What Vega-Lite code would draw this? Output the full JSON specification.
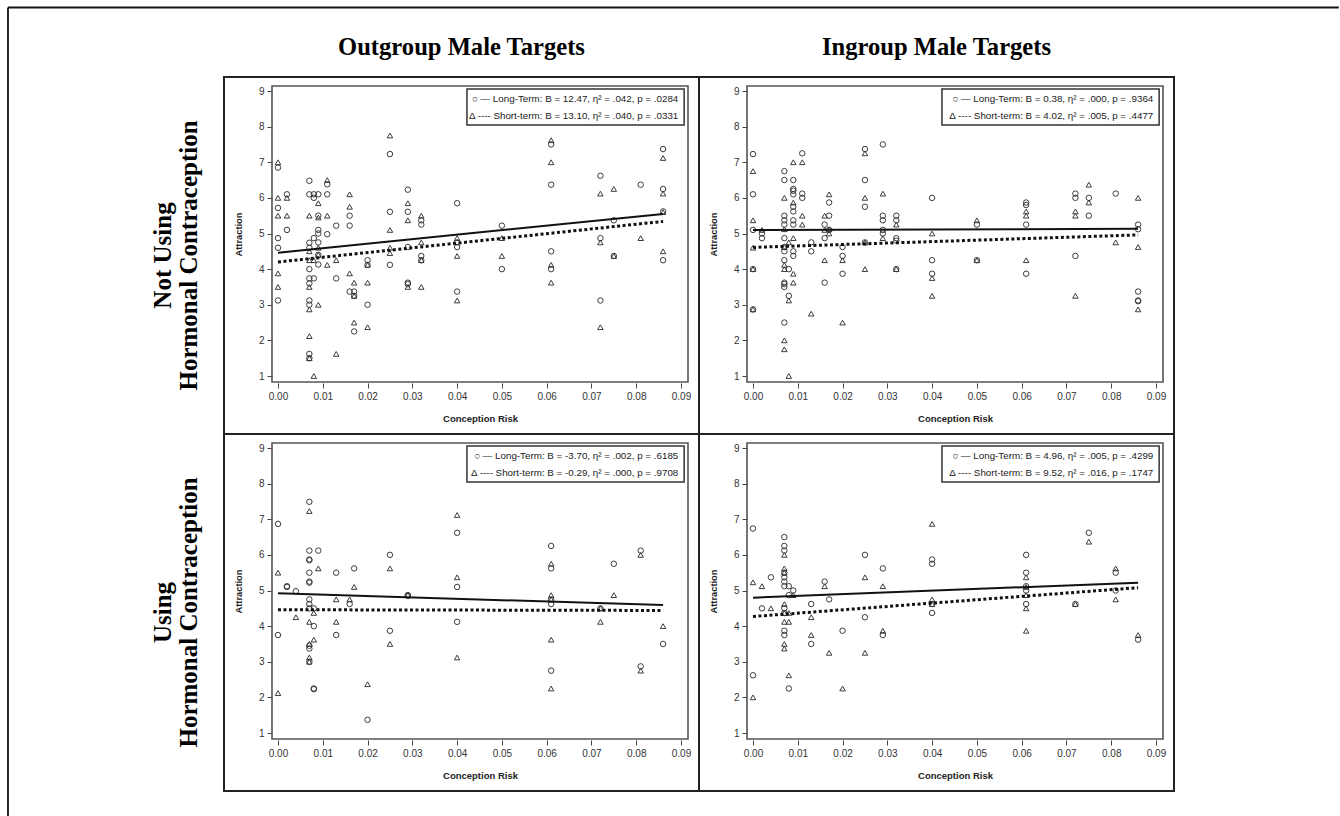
{
  "$schema": "https://vega.github.io/schema/vega-lite/v6.json",
  "padding": {"left": 6, "top": 5, "right": 0, "bottom": 0},
  "background": "white",
  "bounds": "flush",
  "data": {"values": [
    {"k":"p","r":"N","c":"O","t":"L","x":0,"y":6.85},{"k":"p","r":"N","c":"O","t":"L","x":0,"y":5.72},{"k":"p","r":"N","c":"O","t":"L","x":0,"y":4.87},{"k":"p","r":"N","c":"O","t":"L","x":0,"y":4.6},{"k":"p","r":"N","c":"O","t":"L","x":0,"y":3.12},
    {"k":"p","r":"N","c":"O","t":"L","x":0.002,"y":6.1},{"k":"p","r":"N","c":"O","t":"L","x":0.002,"y":5.1},
    {"k":"p","r":"N","c":"O","t":"L","x":0.007,"y":6.48},{"k":"p","r":"N","c":"O","t":"L","x":0.007,"y":6.1},{"k":"p","r":"N","c":"O","t":"L","x":0.007,"y":4.74},{"k":"p","r":"N","c":"O","t":"L","x":0.007,"y":4.6},{"k":"p","r":"N","c":"O","t":"L","x":0.007,"y":4.0},{"k":"p","r":"N","c":"O","t":"L","x":0.007,"y":3.74},{"k":"p","r":"N","c":"O","t":"L","x":0.007,"y":3.6},{"k":"p","r":"N","c":"O","t":"L","x":0.007,"y":3.12},{"k":"p","r":"N","c":"O","t":"L","x":0.007,"y":3.0},{"k":"p","r":"N","c":"O","t":"L","x":0.007,"y":1.62},{"k":"p","r":"N","c":"O","t":"L","x":0.007,"y":1.5},
    {"k":"p","r":"N","c":"O","t":"L","x":0.008,"y":6.1},{"k":"p","r":"N","c":"O","t":"L","x":0.008,"y":6.0},{"k":"p","r":"N","c":"O","t":"L","x":0.008,"y":4.87},{"k":"p","r":"N","c":"O","t":"L","x":0.008,"y":3.74},
    {"k":"p","r":"N","c":"O","t":"L","x":0.009,"y":6.1},{"k":"p","r":"N","c":"O","t":"L","x":0.009,"y":5.5},{"k":"p","r":"N","c":"O","t":"L","x":0.009,"y":5.1},{"k":"p","r":"N","c":"O","t":"L","x":0.009,"y":5.0},{"k":"p","r":"N","c":"O","t":"L","x":0.009,"y":4.75},{"k":"p","r":"N","c":"O","t":"L","x":0.009,"y":4.4},{"k":"p","r":"N","c":"O","t":"L","x":0.009,"y":4.13},
    {"k":"p","r":"N","c":"O","t":"L","x":0.011,"y":6.38},{"k":"p","r":"N","c":"O","t":"L","x":0.011,"y":6.1},{"k":"p","r":"N","c":"O","t":"L","x":0.011,"y":4.98},
    {"k":"p","r":"N","c":"O","t":"L","x":0.013,"y":5.22},{"k":"p","r":"N","c":"O","t":"L","x":0.013,"y":3.74},
    {"k":"p","r":"N","c":"O","t":"L","x":0.016,"y":5.5},{"k":"p","r":"N","c":"O","t":"L","x":0.016,"y":5.22},{"k":"p","r":"N","c":"O","t":"L","x":0.016,"y":3.37},
    {"k":"p","r":"N","c":"O","t":"L","x":0.017,"y":3.37},{"k":"p","r":"N","c":"O","t":"L","x":0.017,"y":3.25},{"k":"p","r":"N","c":"O","t":"L","x":0.017,"y":2.25},
    {"k":"p","r":"N","c":"O","t":"L","x":0.02,"y":4.25},{"k":"p","r":"N","c":"O","t":"L","x":0.02,"y":4.12},{"k":"p","r":"N","c":"O","t":"L","x":0.02,"y":3.0},
    {"k":"p","r":"N","c":"O","t":"L","x":0.025,"y":7.23},{"k":"p","r":"N","c":"O","t":"L","x":0.025,"y":5.61},{"k":"p","r":"N","c":"O","t":"L","x":0.025,"y":4.12},
    {"k":"p","r":"N","c":"O","t":"L","x":0.029,"y":6.23},{"k":"p","r":"N","c":"O","t":"L","x":0.029,"y":5.61},{"k":"p","r":"N","c":"O","t":"L","x":0.029,"y":4.62},{"k":"p","r":"N","c":"O","t":"L","x":0.029,"y":3.62},{"k":"p","r":"N","c":"O","t":"L","x":0.029,"y":3.58},
    {"k":"p","r":"N","c":"O","t":"L","x":0.032,"y":5.37},{"k":"p","r":"N","c":"O","t":"L","x":0.032,"y":5.25},{"k":"p","r":"N","c":"O","t":"L","x":0.032,"y":4.37},{"k":"p","r":"N","c":"O","t":"L","x":0.032,"y":4.25},
    {"k":"p","r":"N","c":"O","t":"L","x":0.04,"y":5.85},{"k":"p","r":"N","c":"O","t":"L","x":0.04,"y":4.75},{"k":"p","r":"N","c":"O","t":"L","x":0.04,"y":4.62},{"k":"p","r":"N","c":"O","t":"L","x":0.04,"y":3.37},
    {"k":"p","r":"N","c":"O","t":"L","x":0.05,"y":5.22},{"k":"p","r":"N","c":"O","t":"L","x":0.05,"y":4.0},
    {"k":"p","r":"N","c":"O","t":"L","x":0.061,"y":7.5},{"k":"p","r":"N","c":"O","t":"L","x":0.061,"y":6.37},{"k":"p","r":"N","c":"O","t":"L","x":0.061,"y":4.5},{"k":"p","r":"N","c":"O","t":"L","x":0.061,"y":4.0},
    {"k":"p","r":"N","c":"O","t":"L","x":0.072,"y":6.62},{"k":"p","r":"N","c":"O","t":"L","x":0.072,"y":4.87},{"k":"p","r":"N","c":"O","t":"L","x":0.072,"y":3.12},
    {"k":"p","r":"N","c":"O","t":"L","x":0.075,"y":5.37},{"k":"p","r":"N","c":"O","t":"L","x":0.075,"y":4.37},
    {"k":"p","r":"N","c":"O","t":"L","x":0.081,"y":6.37},
    {"k":"p","r":"N","c":"O","t":"L","x":0.086,"y":7.37},{"k":"p","r":"N","c":"O","t":"L","x":0.086,"y":6.25},{"k":"p","r":"N","c":"O","t":"L","x":0.086,"y":5.62},{"k":"p","r":"N","c":"O","t":"L","x":0.086,"y":4.25},

    {"k":"p","r":"N","c":"O","t":"S","x":0,"y":7.0},{"k":"p","r":"N","c":"O","t":"S","x":0,"y":6.0},{"k":"p","r":"N","c":"O","t":"S","x":0,"y":5.5},{"k":"p","r":"N","c":"O","t":"S","x":0,"y":3.88},{"k":"p","r":"N","c":"O","t":"S","x":0,"y":3.5},
    {"k":"p","r":"N","c":"O","t":"S","x":0.002,"y":6.0},{"k":"p","r":"N","c":"O","t":"S","x":0.002,"y":5.5},
    {"k":"p","r":"N","c":"O","t":"S","x":0.007,"y":5.5},{"k":"p","r":"N","c":"O","t":"S","x":0.007,"y":4.5},{"k":"p","r":"N","c":"O","t":"S","x":0.007,"y":4.25},{"k":"p","r":"N","c":"O","t":"S","x":0.007,"y":3.5},{"k":"p","r":"N","c":"O","t":"S","x":0.007,"y":2.87},{"k":"p","r":"N","c":"O","t":"S","x":0.007,"y":2.12},{"k":"p","r":"N","c":"O","t":"S","x":0.007,"y":1.5},
    {"k":"p","r":"N","c":"O","t":"S","x":0.008,"y":4.25},{"k":"p","r":"N","c":"O","t":"S","x":0.008,"y":1.0},
    {"k":"p","r":"N","c":"O","t":"S","x":0.009,"y":5.85},{"k":"p","r":"N","c":"O","t":"S","x":0.009,"y":5.45},{"k":"p","r":"N","c":"O","t":"S","x":0.009,"y":4.6},{"k":"p","r":"N","c":"O","t":"S","x":0.009,"y":4.4},{"k":"p","r":"N","c":"O","t":"S","x":0.009,"y":3.0},
    {"k":"p","r":"N","c":"O","t":"S","x":0.011,"y":6.5},{"k":"p","r":"N","c":"O","t":"S","x":0.011,"y":5.5},{"k":"p","r":"N","c":"O","t":"S","x":0.011,"y":4.12},
    {"k":"p","r":"N","c":"O","t":"S","x":0.013,"y":4.25},{"k":"p","r":"N","c":"O","t":"S","x":0.013,"y":1.62},
    {"k":"p","r":"N","c":"O","t":"S","x":0.016,"y":6.1},{"k":"p","r":"N","c":"O","t":"S","x":0.016,"y":5.75},{"k":"p","r":"N","c":"O","t":"S","x":0.016,"y":3.88},
    {"k":"p","r":"N","c":"O","t":"S","x":0.017,"y":3.62},{"k":"p","r":"N","c":"O","t":"S","x":0.017,"y":3.25},{"k":"p","r":"N","c":"O","t":"S","x":0.017,"y":2.5},
    {"k":"p","r":"N","c":"O","t":"S","x":0.02,"y":4.12},{"k":"p","r":"N","c":"O","t":"S","x":0.02,"y":3.62},{"k":"p","r":"N","c":"O","t":"S","x":0.02,"y":2.37},
    {"k":"p","r":"N","c":"O","t":"S","x":0.025,"y":7.75},{"k":"p","r":"N","c":"O","t":"S","x":0.025,"y":5.1},{"k":"p","r":"N","c":"O","t":"S","x":0.025,"y":4.6},{"k":"p","r":"N","c":"O","t":"S","x":0.025,"y":4.45},
    {"k":"p","r":"N","c":"O","t":"S","x":0.029,"y":5.85},{"k":"p","r":"N","c":"O","t":"S","x":0.029,"y":5.37},{"k":"p","r":"N","c":"O","t":"S","x":0.029,"y":3.5},
    {"k":"p","r":"N","c":"O","t":"S","x":0.032,"y":5.5},{"k":"p","r":"N","c":"O","t":"S","x":0.032,"y":4.75},{"k":"p","r":"N","c":"O","t":"S","x":0.032,"y":4.25},{"k":"p","r":"N","c":"O","t":"S","x":0.032,"y":3.5},
    {"k":"p","r":"N","c":"O","t":"S","x":0.04,"y":4.87},{"k":"p","r":"N","c":"O","t":"S","x":0.04,"y":4.37},{"k":"p","r":"N","c":"O","t":"S","x":0.04,"y":3.12},
    {"k":"p","r":"N","c":"O","t":"S","x":0.05,"y":4.87},{"k":"p","r":"N","c":"O","t":"S","x":0.05,"y":4.37},
    {"k":"p","r":"N","c":"O","t":"S","x":0.061,"y":7.62},{"k":"p","r":"N","c":"O","t":"S","x":0.061,"y":7.0},{"k":"p","r":"N","c":"O","t":"S","x":0.061,"y":4.12},{"k":"p","r":"N","c":"O","t":"S","x":0.061,"y":3.62},
    {"k":"p","r":"N","c":"O","t":"S","x":0.072,"y":6.12},{"k":"p","r":"N","c":"O","t":"S","x":0.072,"y":4.75},{"k":"p","r":"N","c":"O","t":"S","x":0.072,"y":2.37},
    {"k":"p","r":"N","c":"O","t":"S","x":0.075,"y":6.25},{"k":"p","r":"N","c":"O","t":"S","x":0.075,"y":4.37},
    {"k":"p","r":"N","c":"O","t":"S","x":0.081,"y":4.87},
    {"k":"p","r":"N","c":"O","t":"S","x":0.086,"y":7.12},{"k":"p","r":"N","c":"O","t":"S","x":0.086,"y":6.12},{"k":"p","r":"N","c":"O","t":"S","x":0.086,"y":5.6},{"k":"p","r":"N","c":"O","t":"S","x":0.086,"y":4.5},

    {"k":"p","r":"N","c":"I","t":"L","x":0,"y":7.23},{"k":"p","r":"N","c":"I","t":"L","x":0,"y":6.1},{"k":"p","r":"N","c":"I","t":"L","x":0,"y":5.1},{"k":"p","r":"N","c":"I","t":"L","x":0,"y":4.0},{"k":"p","r":"N","c":"I","t":"L","x":0,"y":2.87},
    {"k":"p","r":"N","c":"I","t":"L","x":0.002,"y":5.0},{"k":"p","r":"N","c":"I","t":"L","x":0.002,"y":4.87},
    {"k":"p","r":"N","c":"I","t":"L","x":0.007,"y":6.75},{"k":"p","r":"N","c":"I","t":"L","x":0.007,"y":6.5},{"k":"p","r":"N","c":"I","t":"L","x":0.007,"y":5.5},{"k":"p","r":"N","c":"I","t":"L","x":0.007,"y":5.37},{"k":"p","r":"N","c":"I","t":"L","x":0.007,"y":5.25},{"k":"p","r":"N","c":"I","t":"L","x":0.007,"y":4.87},{"k":"p","r":"N","c":"I","t":"L","x":0.007,"y":4.62},{"k":"p","r":"N","c":"I","t":"L","x":0.007,"y":4.5},{"k":"p","r":"N","c":"I","t":"L","x":0.007,"y":4.25},{"k":"p","r":"N","c":"I","t":"L","x":0.007,"y":3.62},{"k":"p","r":"N","c":"I","t":"L","x":0.007,"y":3.58},{"k":"p","r":"N","c":"I","t":"L","x":0.007,"y":3.5},{"k":"p","r":"N","c":"I","t":"L","x":0.007,"y":2.5},
    {"k":"p","r":"N","c":"I","t":"L","x":0.008,"y":4.0},{"k":"p","r":"N","c":"I","t":"L","x":0.008,"y":3.25},
    {"k":"p","r":"N","c":"I","t":"L","x":0.009,"y":6.5},{"k":"p","r":"N","c":"I","t":"L","x":0.009,"y":6.25},{"k":"p","r":"N","c":"I","t":"L","x":0.009,"y":6.2},{"k":"p","r":"N","c":"I","t":"L","x":0.009,"y":6.1},{"k":"p","r":"N","c":"I","t":"L","x":0.009,"y":5.75},{"k":"p","r":"N","c":"I","t":"L","x":0.009,"y":5.62},{"k":"p","r":"N","c":"I","t":"L","x":0.009,"y":5.37},{"k":"p","r":"N","c":"I","t":"L","x":0.009,"y":5.25},{"k":"p","r":"N","c":"I","t":"L","x":0.009,"y":4.5},{"k":"p","r":"N","c":"I","t":"L","x":0.009,"y":4.37},
    {"k":"p","r":"N","c":"I","t":"L","x":0.011,"y":7.25},{"k":"p","r":"N","c":"I","t":"L","x":0.011,"y":6.12},{"k":"p","r":"N","c":"I","t":"L","x":0.011,"y":6.0},
    {"k":"p","r":"N","c":"I","t":"L","x":0.013,"y":4.75},{"k":"p","r":"N","c":"I","t":"L","x":0.013,"y":4.5},
    {"k":"p","r":"N","c":"I","t":"L","x":0.016,"y":5.25},{"k":"p","r":"N","c":"I","t":"L","x":0.016,"y":4.87},{"k":"p","r":"N","c":"I","t":"L","x":0.016,"y":3.62},
    {"k":"p","r":"N","c":"I","t":"L","x":0.017,"y":5.87},{"k":"p","r":"N","c":"I","t":"L","x":0.017,"y":5.5},{"k":"p","r":"N","c":"I","t":"L","x":0.017,"y":5.1},
    {"k":"p","r":"N","c":"I","t":"L","x":0.02,"y":4.62},{"k":"p","r":"N","c":"I","t":"L","x":0.02,"y":4.37},{"k":"p","r":"N","c":"I","t":"L","x":0.02,"y":3.87},
    {"k":"p","r":"N","c":"I","t":"L","x":0.025,"y":7.37},{"k":"p","r":"N","c":"I","t":"L","x":0.025,"y":6.5},{"k":"p","r":"N","c":"I","t":"L","x":0.025,"y":5.75},{"k":"p","r":"N","c":"I","t":"L","x":0.025,"y":4.75},
    {"k":"p","r":"N","c":"I","t":"L","x":0.029,"y":7.5},{"k":"p","r":"N","c":"I","t":"L","x":0.029,"y":5.5},{"k":"p","r":"N","c":"I","t":"L","x":0.029,"y":5.37},{"k":"p","r":"N","c":"I","t":"L","x":0.029,"y":5.1},{"k":"p","r":"N","c":"I","t":"L","x":0.029,"y":5.0},
    {"k":"p","r":"N","c":"I","t":"L","x":0.032,"y":5.5},{"k":"p","r":"N","c":"I","t":"L","x":0.032,"y":5.37},{"k":"p","r":"N","c":"I","t":"L","x":0.032,"y":4.87},{"k":"p","r":"N","c":"I","t":"L","x":0.032,"y":4.8},{"k":"p","r":"N","c":"I","t":"L","x":0.032,"y":4.0},
    {"k":"p","r":"N","c":"I","t":"L","x":0.04,"y":6.0},{"k":"p","r":"N","c":"I","t":"L","x":0.04,"y":4.25},{"k":"p","r":"N","c":"I","t":"L","x":0.04,"y":3.87},
    {"k":"p","r":"N","c":"I","t":"L","x":0.05,"y":5.25},{"k":"p","r":"N","c":"I","t":"L","x":0.05,"y":4.25},
    {"k":"p","r":"N","c":"I","t":"L","x":0.061,"y":5.87},{"k":"p","r":"N","c":"I","t":"L","x":0.061,"y":5.8},{"k":"p","r":"N","c":"I","t":"L","x":0.061,"y":5.25},{"k":"p","r":"N","c":"I","t":"L","x":0.061,"y":3.87},
    {"k":"p","r":"N","c":"I","t":"L","x":0.072,"y":6.12},{"k":"p","r":"N","c":"I","t":"L","x":0.072,"y":6.0},{"k":"p","r":"N","c":"I","t":"L","x":0.072,"y":4.37},
    {"k":"p","r":"N","c":"I","t":"L","x":0.075,"y":6.0},{"k":"p","r":"N","c":"I","t":"L","x":0.075,"y":5.5},
    {"k":"p","r":"N","c":"I","t":"L","x":0.081,"y":6.12},
    {"k":"p","r":"N","c":"I","t":"L","x":0.086,"y":5.25},{"k":"p","r":"N","c":"I","t":"L","x":0.086,"y":5.12},{"k":"p","r":"N","c":"I","t":"L","x":0.086,"y":3.37},{"k":"p","r":"N","c":"I","t":"L","x":0.086,"y":3.12},{"k":"p","r":"N","c":"I","t":"L","x":0.086,"y":3.1},

    {"k":"p","r":"N","c":"I","t":"S","x":0,"y":6.75},{"k":"p","r":"N","c":"I","t":"S","x":0,"y":5.37},{"k":"p","r":"N","c":"I","t":"S","x":0,"y":4.6},{"k":"p","r":"N","c":"I","t":"S","x":0,"y":4.0},{"k":"p","r":"N","c":"I","t":"S","x":0,"y":2.87},
    {"k":"p","r":"N","c":"I","t":"S","x":0.002,"y":5.1},
    {"k":"p","r":"N","c":"I","t":"S","x":0.007,"y":6.0},{"k":"p","r":"N","c":"I","t":"S","x":0.007,"y":5.12},{"k":"p","r":"N","c":"I","t":"S","x":0.007,"y":4.62},{"k":"p","r":"N","c":"I","t":"S","x":0.007,"y":4.12},{"k":"p","r":"N","c":"I","t":"S","x":0.007,"y":4.0},{"k":"p","r":"N","c":"I","t":"S","x":0.007,"y":2.0},{"k":"p","r":"N","c":"I","t":"S","x":0.007,"y":1.75},
    {"k":"p","r":"N","c":"I","t":"S","x":0.008,"y":4.75},{"k":"p","r":"N","c":"I","t":"S","x":0.008,"y":3.12},{"k":"p","r":"N","c":"I","t":"S","x":0.008,"y":1.0},
    {"k":"p","r":"N","c":"I","t":"S","x":0.009,"y":7.0},{"k":"p","r":"N","c":"I","t":"S","x":0.009,"y":5.87},{"k":"p","r":"N","c":"I","t":"S","x":0.009,"y":4.87},{"k":"p","r":"N","c":"I","t":"S","x":0.009,"y":3.87},{"k":"p","r":"N","c":"I","t":"S","x":0.009,"y":3.62},
    {"k":"p","r":"N","c":"I","t":"S","x":0.011,"y":7.0},{"k":"p","r":"N","c":"I","t":"S","x":0.011,"y":5.5},{"k":"p","r":"N","c":"I","t":"S","x":0.011,"y":5.25},
    {"k":"p","r":"N","c":"I","t":"S","x":0.013,"y":2.75},
    {"k":"p","r":"N","c":"I","t":"S","x":0.016,"y":5.5},{"k":"p","r":"N","c":"I","t":"S","x":0.016,"y":5.1},{"k":"p","r":"N","c":"I","t":"S","x":0.016,"y":4.25},
    {"k":"p","r":"N","c":"I","t":"S","x":0.017,"y":6.1},{"k":"p","r":"N","c":"I","t":"S","x":0.017,"y":5.12},{"k":"p","r":"N","c":"I","t":"S","x":0.017,"y":5.0},
    {"k":"p","r":"N","c":"I","t":"S","x":0.02,"y":4.25},{"k":"p","r":"N","c":"I","t":"S","x":0.02,"y":2.5},
    {"k":"p","r":"N","c":"I","t":"S","x":0.025,"y":7.25},{"k":"p","r":"N","c":"I","t":"S","x":0.025,"y":6.0},{"k":"p","r":"N","c":"I","t":"S","x":0.025,"y":4.75},{"k":"p","r":"N","c":"I","t":"S","x":0.025,"y":4.0},
    {"k":"p","r":"N","c":"I","t":"S","x":0.029,"y":6.12},{"k":"p","r":"N","c":"I","t":"S","x":0.029,"y":4.87},
    {"k":"p","r":"N","c":"I","t":"S","x":0.032,"y":5.25},{"k":"p","r":"N","c":"I","t":"S","x":0.032,"y":4.0},
    {"k":"p","r":"N","c":"I","t":"S","x":0.04,"y":5.0},{"k":"p","r":"N","c":"I","t":"S","x":0.04,"y":3.75},{"k":"p","r":"N","c":"I","t":"S","x":0.04,"y":3.25},
    {"k":"p","r":"N","c":"I","t":"S","x":0.05,"y":5.37},{"k":"p","r":"N","c":"I","t":"S","x":0.05,"y":4.25},
    {"k":"p","r":"N","c":"I","t":"S","x":0.061,"y":5.62},{"k":"p","r":"N","c":"I","t":"S","x":0.061,"y":5.5},{"k":"p","r":"N","c":"I","t":"S","x":0.061,"y":4.25},
    {"k":"p","r":"N","c":"I","t":"S","x":0.072,"y":5.62},{"k":"p","r":"N","c":"I","t":"S","x":0.072,"y":5.5},{"k":"p","r":"N","c":"I","t":"S","x":0.072,"y":3.25},
    {"k":"p","r":"N","c":"I","t":"S","x":0.075,"y":6.37},{"k":"p","r":"N","c":"I","t":"S","x":0.075,"y":5.87},
    {"k":"p","r":"N","c":"I","t":"S","x":0.081,"y":4.75},
    {"k":"p","r":"N","c":"I","t":"S","x":0.086,"y":6.0},{"k":"p","r":"N","c":"I","t":"S","x":0.086,"y":4.62},{"k":"p","r":"N","c":"I","t":"S","x":0.086,"y":2.87},

    {"k":"p","r":"U","c":"O","t":"L","x":0,"y":6.87},{"k":"p","r":"U","c":"O","t":"L","x":0,"y":3.75},
    {"k":"p","r":"U","c":"O","t":"L","x":0.002,"y":5.1},{"k":"p","r":"U","c":"O","t":"L","x":0.002,"y":5.12},
    {"k":"p","r":"U","c":"O","t":"L","x":0.004,"y":4.98},
    {"k":"p","r":"U","c":"O","t":"L","x":0.007,"y":7.49},{"k":"p","r":"U","c":"O","t":"L","x":0.007,"y":6.12},{"k":"p","r":"U","c":"O","t":"L","x":0.007,"y":5.87},{"k":"p","r":"U","c":"O","t":"L","x":0.007,"y":5.85},{"k":"p","r":"U","c":"O","t":"L","x":0.007,"y":5.5},{"k":"p","r":"U","c":"O","t":"L","x":0.007,"y":5.25},{"k":"p","r":"U","c":"O","t":"L","x":0.007,"y":5.22},{"k":"p","r":"U","c":"O","t":"L","x":0.007,"y":4.75},{"k":"p","r":"U","c":"O","t":"L","x":0.007,"y":4.62},{"k":"p","r":"U","c":"O","t":"L","x":0.007,"y":4.5},{"k":"p","r":"U","c":"O","t":"L","x":0.007,"y":3.45},{"k":"p","r":"U","c":"O","t":"L","x":0.007,"y":3.37},{"k":"p","r":"U","c":"O","t":"L","x":0.007,"y":3.0},
    {"k":"p","r":"U","c":"O","t":"L","x":0.008,"y":4.5},{"k":"p","r":"U","c":"O","t":"L","x":0.008,"y":4.0},{"k":"p","r":"U","c":"O","t":"L","x":0.008,"y":2.25},{"k":"p","r":"U","c":"O","t":"L","x":0.008,"y":2.23},
    {"k":"p","r":"U","c":"O","t":"L","x":0.009,"y":6.12},
    {"k":"p","r":"U","c":"O","t":"L","x":0.013,"y":5.5},{"k":"p","r":"U","c":"O","t":"L","x":0.013,"y":3.75},
    {"k":"p","r":"U","c":"O","t":"L","x":0.016,"y":4.62},
    {"k":"p","r":"U","c":"O","t":"L","x":0.017,"y":5.62},
    {"k":"p","r":"U","c":"O","t":"L","x":0.02,"y":1.37},
    {"k":"p","r":"U","c":"O","t":"L","x":0.025,"y":6.0},{"k":"p","r":"U","c":"O","t":"L","x":0.025,"y":3.87},
    {"k":"p","r":"U","c":"O","t":"L","x":0.029,"y":4.87},{"k":"p","r":"U","c":"O","t":"L","x":0.029,"y":4.85},
    {"k":"p","r":"U","c":"O","t":"L","x":0.04,"y":6.62},{"k":"p","r":"U","c":"O","t":"L","x":0.04,"y":5.1},{"k":"p","r":"U","c":"O","t":"L","x":0.04,"y":4.12},
    {"k":"p","r":"U","c":"O","t":"L","x":0.061,"y":6.25},{"k":"p","r":"U","c":"O","t":"L","x":0.061,"y":5.62},{"k":"p","r":"U","c":"O","t":"L","x":0.061,"y":4.75},{"k":"p","r":"U","c":"O","t":"L","x":0.061,"y":4.62},{"k":"p","r":"U","c":"O","t":"L","x":0.061,"y":2.75},
    {"k":"p","r":"U","c":"O","t":"L","x":0.072,"y":4.5},
    {"k":"p","r":"U","c":"O","t":"L","x":0.075,"y":5.75},
    {"k":"p","r":"U","c":"O","t":"L","x":0.081,"y":6.12},{"k":"p","r":"U","c":"O","t":"L","x":0.081,"y":2.87},
    {"k":"p","r":"U","c":"O","t":"L","x":0.086,"y":3.5},

    {"k":"p","r":"U","c":"O","t":"S","x":0,"y":5.5},{"k":"p","r":"U","c":"O","t":"S","x":0,"y":2.12},
    {"k":"p","r":"U","c":"O","t":"S","x":0.004,"y":4.25},
    {"k":"p","r":"U","c":"O","t":"S","x":0.007,"y":7.23},{"k":"p","r":"U","c":"O","t":"S","x":0.007,"y":4.12},{"k":"p","r":"U","c":"O","t":"S","x":0.007,"y":3.5},{"k":"p","r":"U","c":"O","t":"S","x":0.007,"y":3.12},{"k":"p","r":"U","c":"O","t":"S","x":0.007,"y":3.0},
    {"k":"p","r":"U","c":"O","t":"S","x":0.008,"y":4.37},{"k":"p","r":"U","c":"O","t":"S","x":0.008,"y":3.62},
    {"k":"p","r":"U","c":"O","t":"S","x":0.009,"y":5.62},
    {"k":"p","r":"U","c":"O","t":"S","x":0.013,"y":4.75},{"k":"p","r":"U","c":"O","t":"S","x":0.013,"y":4.12},
    {"k":"p","r":"U","c":"O","t":"S","x":0.016,"y":4.75},
    {"k":"p","r":"U","c":"O","t":"S","x":0.017,"y":5.1},
    {"k":"p","r":"U","c":"O","t":"S","x":0.02,"y":2.37},
    {"k":"p","r":"U","c":"O","t":"S","x":0.025,"y":5.62},{"k":"p","r":"U","c":"O","t":"S","x":0.025,"y":3.5},
    {"k":"p","r":"U","c":"O","t":"S","x":0.029,"y":4.87},
    {"k":"p","r":"U","c":"O","t":"S","x":0.04,"y":7.12},{"k":"p","r":"U","c":"O","t":"S","x":0.04,"y":5.37},{"k":"p","r":"U","c":"O","t":"S","x":0.04,"y":3.12},
    {"k":"p","r":"U","c":"O","t":"S","x":0.061,"y":5.75},{"k":"p","r":"U","c":"O","t":"S","x":0.061,"y":4.87},{"k":"p","r":"U","c":"O","t":"S","x":0.061,"y":4.75},{"k":"p","r":"U","c":"O","t":"S","x":0.061,"y":3.62},{"k":"p","r":"U","c":"O","t":"S","x":0.061,"y":2.25},
    {"k":"p","r":"U","c":"O","t":"S","x":0.072,"y":4.5},{"k":"p","r":"U","c":"O","t":"S","x":0.072,"y":4.12},
    {"k":"p","r":"U","c":"O","t":"S","x":0.075,"y":4.87},
    {"k":"p","r":"U","c":"O","t":"S","x":0.081,"y":6.0},{"k":"p","r":"U","c":"O","t":"S","x":0.081,"y":2.75},
    {"k":"p","r":"U","c":"O","t":"S","x":0.086,"y":4.0},

    {"k":"p","r":"U","c":"I","t":"L","x":0,"y":6.74},{"k":"p","r":"U","c":"I","t":"L","x":0,"y":2.62},
    {"k":"p","r":"U","c":"I","t":"L","x":0.002,"y":4.5},
    {"k":"p","r":"U","c":"I","t":"L","x":0.004,"y":5.37},
    {"k":"p","r":"U","c":"I","t":"L","x":0.007,"y":6.5},{"k":"p","r":"U","c":"I","t":"L","x":0.007,"y":6.25},{"k":"p","r":"U","c":"I","t":"L","x":0.007,"y":6.12},{"k":"p","r":"U","c":"I","t":"L","x":0.007,"y":5.5},{"k":"p","r":"U","c":"I","t":"L","x":0.007,"y":5.37},{"k":"p","r":"U","c":"I","t":"L","x":0.007,"y":5.25},{"k":"p","r":"U","c":"I","t":"L","x":0.007,"y":5.12},{"k":"p","r":"U","c":"I","t":"L","x":0.007,"y":4.5},{"k":"p","r":"U","c":"I","t":"L","x":0.007,"y":4.37},{"k":"p","r":"U","c":"I","t":"L","x":0.007,"y":3.87},{"k":"p","r":"U","c":"I","t":"L","x":0.007,"y":3.75},
    {"k":"p","r":"U","c":"I","t":"L","x":0.008,"y":5.12},{"k":"p","r":"U","c":"I","t":"L","x":0.008,"y":4.87},{"k":"p","r":"U","c":"I","t":"L","x":0.008,"y":2.25},
    {"k":"p","r":"U","c":"I","t":"L","x":0.009,"y":5.0},
    {"k":"p","r":"U","c":"I","t":"L","x":0.013,"y":4.62},{"k":"p","r":"U","c":"I","t":"L","x":0.013,"y":3.5},
    {"k":"p","r":"U","c":"I","t":"L","x":0.016,"y":5.25},
    {"k":"p","r":"U","c":"I","t":"L","x":0.017,"y":4.75},
    {"k":"p","r":"U","c":"I","t":"L","x":0.02,"y":3.87},
    {"k":"p","r":"U","c":"I","t":"L","x":0.025,"y":6.0},{"k":"p","r":"U","c":"I","t":"L","x":0.025,"y":4.25},
    {"k":"p","r":"U","c":"I","t":"L","x":0.029,"y":5.62},{"k":"p","r":"U","c":"I","t":"L","x":0.029,"y":3.75},
    {"k":"p","r":"U","c":"I","t":"L","x":0.04,"y":5.87},{"k":"p","r":"U","c":"I","t":"L","x":0.04,"y":5.75},{"k":"p","r":"U","c":"I","t":"L","x":0.04,"y":4.62},{"k":"p","r":"U","c":"I","t":"L","x":0.04,"y":4.37},
    {"k":"p","r":"U","c":"I","t":"L","x":0.061,"y":6.0},{"k":"p","r":"U","c":"I","t":"L","x":0.061,"y":5.5},{"k":"p","r":"U","c":"I","t":"L","x":0.061,"y":5.12},{"k":"p","r":"U","c":"I","t":"L","x":0.061,"y":5.0},{"k":"p","r":"U","c":"I","t":"L","x":0.061,"y":4.62},
    {"k":"p","r":"U","c":"I","t":"L","x":0.072,"y":4.62},
    {"k":"p","r":"U","c":"I","t":"L","x":0.075,"y":6.62},
    {"k":"p","r":"U","c":"I","t":"L","x":0.081,"y":5.5},{"k":"p","r":"U","c":"I","t":"L","x":0.081,"y":5.0},
    {"k":"p","r":"U","c":"I","t":"L","x":0.086,"y":3.62},

    {"k":"p","r":"U","c":"I","t":"S","x":0,"y":5.23},{"k":"p","r":"U","c":"I","t":"S","x":0,"y":2.0},
    {"k":"p","r":"U","c":"I","t":"S","x":0.002,"y":5.12},
    {"k":"p","r":"U","c":"I","t":"S","x":0.004,"y":4.5},
    {"k":"p","r":"U","c":"I","t":"S","x":0.007,"y":6.0},{"k":"p","r":"U","c":"I","t":"S","x":0.007,"y":5.62},{"k":"p","r":"U","c":"I","t":"S","x":0.007,"y":5.5},{"k":"p","r":"U","c":"I","t":"S","x":0.007,"y":4.62},{"k":"p","r":"U","c":"I","t":"S","x":0.007,"y":4.37},{"k":"p","r":"U","c":"I","t":"S","x":0.007,"y":4.12},{"k":"p","r":"U","c":"I","t":"S","x":0.007,"y":3.5},{"k":"p","r":"U","c":"I","t":"S","x":0.007,"y":3.37},
    {"k":"p","r":"U","c":"I","t":"S","x":0.008,"y":4.37},{"k":"p","r":"U","c":"I","t":"S","x":0.008,"y":4.12},{"k":"p","r":"U","c":"I","t":"S","x":0.008,"y":2.62},
    {"k":"p","r":"U","c":"I","t":"S","x":0.009,"y":4.87},
    {"k":"p","r":"U","c":"I","t":"S","x":0.013,"y":4.25},{"k":"p","r":"U","c":"I","t":"S","x":0.013,"y":3.75},
    {"k":"p","r":"U","c":"I","t":"S","x":0.016,"y":5.12},
    {"k":"p","r":"U","c":"I","t":"S","x":0.017,"y":3.25},
    {"k":"p","r":"U","c":"I","t":"S","x":0.02,"y":2.25},
    {"k":"p","r":"U","c":"I","t":"S","x":0.025,"y":5.37},{"k":"p","r":"U","c":"I","t":"S","x":0.025,"y":3.25},
    {"k":"p","r":"U","c":"I","t":"S","x":0.029,"y":5.12},{"k":"p","r":"U","c":"I","t":"S","x":0.029,"y":3.87},
    {"k":"p","r":"U","c":"I","t":"S","x":0.04,"y":6.87},{"k":"p","r":"U","c":"I","t":"S","x":0.04,"y":4.75},{"k":"p","r":"U","c":"I","t":"S","x":0.04,"y":4.62},
    {"k":"p","r":"U","c":"I","t":"S","x":0.061,"y":5.37},{"k":"p","r":"U","c":"I","t":"S","x":0.061,"y":5.1},{"k":"p","r":"U","c":"I","t":"S","x":0.061,"y":4.87},{"k":"p","r":"U","c":"I","t":"S","x":0.061,"y":4.5},{"k":"p","r":"U","c":"I","t":"S","x":0.061,"y":3.87},
    {"k":"p","r":"U","c":"I","t":"S","x":0.072,"y":4.62},
    {"k":"p","r":"U","c":"I","t":"S","x":0.075,"y":6.37},
    {"k":"p","r":"U","c":"I","t":"S","x":0.081,"y":5.62},{"k":"p","r":"U","c":"I","t":"S","x":0.081,"y":4.75},
    {"k":"p","r":"U","c":"I","t":"S","x":0.086,"y":3.75},

    {"k":"l","r":"N","c":"O","t":"L","x":0,"y":4.46},{"k":"l","r":"N","c":"O","t":"L","x":0.086,"y":5.55},
    {"k":"l","r":"N","c":"O","t":"S","x":0,"y":4.2},{"k":"l","r":"N","c":"O","t":"S","x":0.086,"y":5.34},
    {"k":"l","r":"N","c":"I","t":"L","x":0,"y":5.1},{"k":"l","r":"N","c":"I","t":"L","x":0.086,"y":5.13},
    {"k":"l","r":"N","c":"I","t":"S","x":0,"y":4.61},{"k":"l","r":"N","c":"I","t":"S","x":0.086,"y":4.96},
    {"k":"l","r":"U","c":"O","t":"L","x":0,"y":4.92},{"k":"l","r":"U","c":"O","t":"L","x":0.086,"y":4.59},
    {"k":"l","r":"U","c":"O","t":"S","x":0,"y":4.46},{"k":"l","r":"U","c":"O","t":"S","x":0.086,"y":4.44},
    {"k":"l","r":"U","c":"I","t":"L","x":0,"y":4.8},{"k":"l","r":"U","c":"I","t":"L","x":0.086,"y":5.22},
    {"k":"l","r":"U","c":"I","t":"S","x":0,"y":4.27},{"k":"l","r":"U","c":"I","t":"S","x":0.086,"y":5.08},

    {"k":"g","r":"N","c":"O","n":1,"txt":"○ — Long-Term: B = 12.47, η² = .042, p = .0284"},
    {"k":"g","r":"N","c":"O","n":2,"txt":"Δ ---- Short-term: B = 13.10, η² = .040, p = .0331"},
    {"k":"g","r":"N","c":"I","n":1,"txt":"○ — Long-Term: B = 0.38, η² = .000, p = .9364"},
    {"k":"g","r":"N","c":"I","n":2,"txt":"Δ ---- Short-term: B = 4.02, η² = .005, p = .4477"},
    {"k":"g","r":"U","c":"O","n":1,"txt":"○ — Long-Term: B = -3.70, η² = .002, p = .6185"},
    {"k":"g","r":"U","c":"O","n":2,"txt":"Δ ---- Short-term: B = -0.29, η² = .000, p = .9708"},
    {"k":"g","r":"U","c":"I","n":1,"txt":"○ — Long-Term: B = 4.96, η² = .005, p = .4299"},
    {"k":"g","r":"U","c":"I","n":2,"txt":"Δ ---- Short-term: B = 9.52, η² = .016, p = .1747"}
  ]},
  "facet": {
    "row": {"field": "r", "type": "nominal", "sort": ["N", "U"], "title": null,
      "header": {"labelExpr": "datum.value == 'N' ? ['Not Using', 'Hormonal Contraception'] : ['Using', 'Hormonal Contraception']",
        "labelFont": "Liberation Serif", "labelFontWeight": "bold", "labelFontSize": 25, "labelColor": "#000",
        "labelAngle": -90, "labelPadding": 10, "labelLineHeight": 26}},
    "column": {"field": "c", "type": "nominal", "sort": ["O", "I"], "title": null,
      "header": {"labelExpr": "datum.value == 'O' ? 'Outgroup Male Targets' : 'Ingroup Male Targets'",
        "labelFont": "Liberation Serif", "labelFontWeight": "bold", "labelFontSize": 24.6, "labelColor": "#000",
        "labelPadding": 16}}
  },
  "spacing": 0,
  "resolve": {"axis": {"x": "independent", "y": "independent"}},
  "spec": {
    "width": 475,
    "height": 357,
    "layer": [
      {
        "transform": [{"filter": "datum.k == 'p'"}],
        "mark": {"type": "point", "filled": false, "size": 30, "strokeWidth": 0.95, "color": "#333", "opacity": 1},
        "encoding": {
          "x": {"field": "x", "type": "quantitative",
            "scale": {"domain": [-0.012059, 0.094019], "nice": false, "zero": false},
            "axis": {"values": [0, 0.01, 0.02, 0.03, 0.04, 0.05, 0.06, 0.07, 0.08, 0.09], "format": ".2f",
              "domain": false, "grid": false, "offset": -51, "tickSize": 5, "tickColor": "#444", "tickWidth": 1,
              "labelFont": "Liberation Sans", "labelFontSize": 10, "labelColor": "#333", "labelPadding": 3,
              "labelFlush": false, "labelOverlap": false,
              "title": "Conception Risk", "titleFont": "Liberation Sans", "titleFontWeight": "bold", "titleFontSize": 9.5,
              "titleColor": "#222", "titleX": 256, "titlePadding": 12}},
          "y": {"field": "y", "type": "quantitative",
            "scale": {"domain": [-0.628, 9.393], "nice": false, "zero": false},
            "axis": {"values": [1, 2, 3, 4, 5, 6, 7, 8, 9], "format": "d",
              "domain": false, "grid": false, "offset": -48, "tickSize": 5, "tickColor": "#444", "tickWidth": 1,
              "labelFont": "Liberation Sans", "labelFontSize": 10, "labelColor": "#333", "labelPadding": 3,
              "labelFlush": false, "labelOverlap": false,
              "title": "Attraction", "titleFont": "Liberation Sans", "titleFontWeight": "bold", "titleFontSize": 9.3,
              "titleColor": "#222", "titleY": 157, "titlePadding": 15}},
          "shape": {"field": "t", "type": "nominal", "scale": {"domain": ["L", "S"], "range": ["circle", "triangle-up"]}, "legend": null}
        }
      },
      {
        "transform": [{"filter": "datum.k == 'g' && datum.n == 1"}],
        "mark": {"type": "rect", "filled": false, "stroke": "#555", "strokeWidth": 1.6},
        "encoding": {
          "x": {"datum": -0.00134, "type": "quantitative", "title": "Conception Risk"},
          "x2": {"datum": 0.091563},
          "y": {"datum": 0.832, "type": "quantitative", "title": "Attraction"},
          "y2": {"datum": 9.14}
        }
      },
      {
        "transform": [{"filter": "datum.k == 'l' && datum.t == 'L'"}],
        "mark": {"type": "line", "color": "#111", "strokeWidth": 2},
        "encoding": {
          "x": {"field": "x", "type": "quantitative", "title": "Conception Risk"},
          "y": {"field": "y", "type": "quantitative", "title": "Attraction"}
        }
      },
      {
        "transform": [{"filter": "datum.k == 'l' && datum.t == 'S'"}],
        "mark": {"type": "line", "color": "#111", "strokeWidth": 3, "strokeDash": [3, 2.5]},
        "encoding": {
          "x": {"field": "x", "type": "quantitative", "title": "Conception Risk"},
          "y": {"field": "y", "type": "quantitative", "title": "Attraction"}
        }
      },
      {
        "transform": [{"filter": "datum.k == 'g' && datum.n == 1"}],
        "mark": {"type": "rect", "fill": "white", "stroke": "#333", "strokeWidth": 1.5},
        "encoding": {
          "x": {"datum": 0.0422, "type": "quantitative", "title": "Conception Risk"},
          "x2": {"datum": 0.0907},
          "y": {"datum": 8.045, "type": "quantitative", "title": "Attraction"},
          "y2": {"datum": 9.056}
        }
      },
      {
        "transform": [{"filter": "datum.k == 'g' && datum.n == 1"}],
        "mark": {"type": "text", "align": "right", "baseline": "middle", "font": "Liberation Sans", "fontSize": 9.8, "color": "#222"},
        "encoding": {
          "x": {"datum": 0.0894, "type": "quantitative", "title": "Conception Risk"},
          "y": {"datum": 8.767, "type": "quantitative", "title": "Attraction"},
          "text": {"field": "txt", "type": "nominal"}
        }
      },
      {
        "transform": [{"filter": "datum.k == 'g' && datum.n == 2"}],
        "mark": {"type": "text", "align": "right", "baseline": "middle", "font": "Liberation Sans", "fontSize": 9.8, "color": "#222"},
        "encoding": {
          "x": {"datum": 0.0894, "type": "quantitative", "title": "Conception Risk"},
          "y": {"datum": 8.298, "type": "quantitative", "title": "Attraction"},
          "text": {"field": "txt", "type": "nominal"}
        }
      },
      {
        "transform": [{"filter": "datum.k == 'g' && datum.n == 1 && datum.r == 'N' && datum.c == 'O'"}],
        "mark": {"type": "rule", "color": "#111", "strokeWidth": 1.8},
        "encoding": {
          "x": {"datum": -0.0603, "type": "quantitative", "title": "Conception Risk"},
          "x2": {"datum": 0.2369},
          "y": {"datum": 11.344, "type": "quantitative", "title": "Attraction"}
        }
      },
      {
        "transform": [{"filter": "datum.k == 'g' && datum.n == 1 && datum.r == 'N' && datum.c == 'O'"}],
        "mark": {"type": "rule", "color": "#111", "strokeWidth": 1.8},
        "encoding": {
          "x": {"datum": -0.0603, "type": "quantitative", "title": "Conception Risk"},
          "y": {"datum": 11.344, "type": "quantitative", "title": "Attraction"},
          "y2": {"datum": -11.35}
        }
      }
    ]
  },
  "config": {
    "view": {"stroke": "#222", "strokeWidth": 2},
    "font": "Liberation Sans"
  }
}
